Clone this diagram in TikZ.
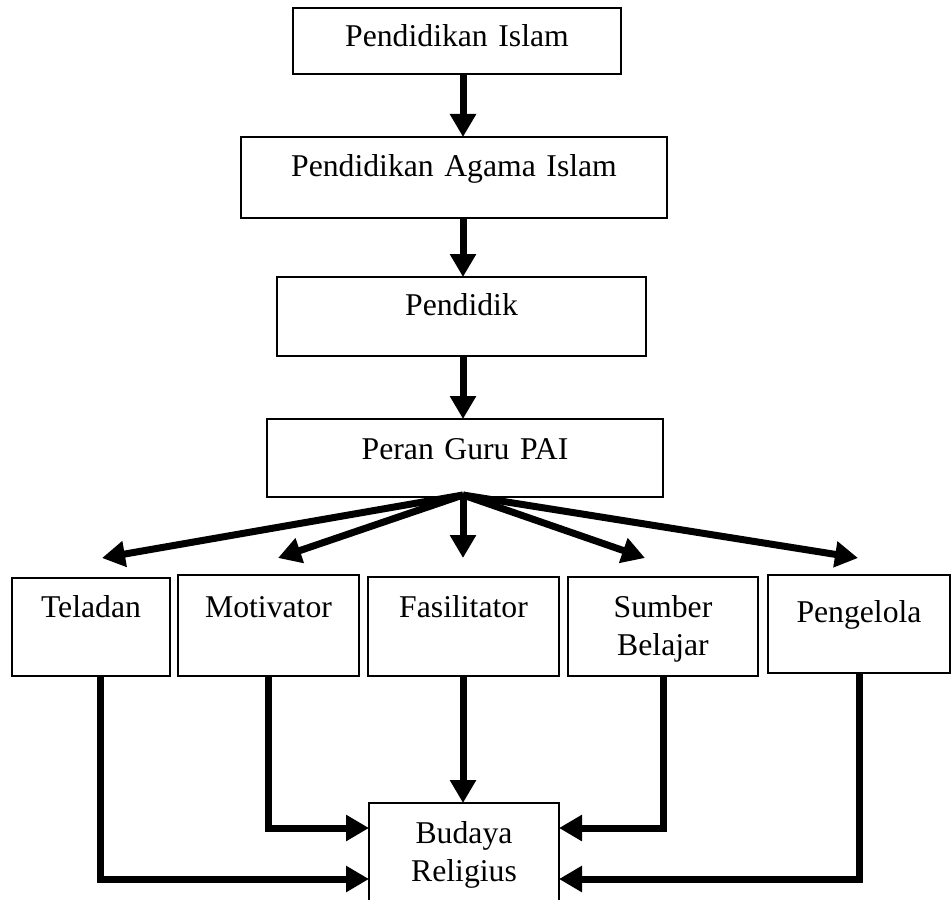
\documentclass[tikz,border=0pt]{standalone}
\usepackage{fontspec}
\setmainfont{Liberation Serif}
\usetikzlibrary{arrows.meta}
\begin{document}
\begin{tikzpicture}[x=0.5pt,y=-0.5pt,
        font=\fontsize{15.85}{19}\selectfont,
        kotak/.style args={#1/#2/#3}{draw,line width=0.75pt,inner sep=0pt,outer sep=0pt,
            anchor=north west,align=center,text width=#1,text height=#2,text depth=#3},
        panah/.style={line width=3.5pt,-{Triangle[length=11.5pt,width=12.5pt]}}]
        \useasboundingbox (0,0) rectangle (952,899);
        % alur atas
        \node[kotak=164pt/19.5pt/13.5pt] (islam) at (293,8) {Pendidikan Islam};
        \node[kotak=213pt/19.5pt/21pt] (pai) at (241,137) {Pendidikan Agama Islam};
        \node[kotak=184.5pt/19pt/20.5pt] (pendidik) at (277,277) {Pendidik};
        \node[kotak=198pt/20pt/19pt] (peran) at (267,419) {Peran Guru PAI};
        % peran guru
        \node[kotak=79pt/19.5pt/29.5pt] (tel) at (12,578) {Teladan};
        \node[kotak=90.5pt/21pt/29.5pt] (mot) at (178,575) {Motivator};
        \node[kotak=95.5pt/20pt/29.5pt] (fas) at (368,577) {Fasilitator};
        \node[kotak=95pt/20pt/29.5pt] (sum) at (568,577) {Sumber\\Belajar};
        \node[kotak=91pt/23.5pt/25.5pt] (pen) at (768,575) {Pengelola};
        \node[kotak=95pt/20pt/33.5pt] (bud) at (369,803) {Budaya\\Religius};
        \coordinate (pusat) at ([xshift=-1pt,yshift=1pt]peran.south);
        % panah
        \draw[panah] (islam.south -| pusat) -- (pai.north -| pusat);
        \draw[panah] (pai.south -| pusat) -- (pendidik.north -| pusat);
        \draw[panah] (pendidik.south -| pusat) -- (peran.north -| pusat);
        \draw[panah] (pusat) -- ([xshift=5.5pt,yshift=10pt]tel.north);
        \draw[panah] (pusat) -- ([xshift=4.75pt,yshift=8.5pt]mot.north);
        \draw[panah] (pusat) -- ([yshift=9.5pt]fas.north -| pusat);
        \draw[panah] (pusat) -- ([xshift=-9pt,yshift=9.5pt]sum.north);
        \draw[panah] (pusat) -- ([xshift=-0.5pt,yshift=8.5pt]pen.north);
        \draw[panah] ([xshift=4.5pt]tel.south) |- ([yshift=-38pt]bud.north west);
        \draw[panah] (mot.south) |- ([yshift=-12.5pt]bud.north west);
        \draw[panah] (fas.south -| pusat) -- (bud.north -| pusat);
        \draw[panah] (sum.south) |- ([yshift=-12.5pt]bud.north east);
        \draw[panah] (pen.south) |- ([yshift=-38pt]bud.north east);
\end{tikzpicture}
\end{document}
